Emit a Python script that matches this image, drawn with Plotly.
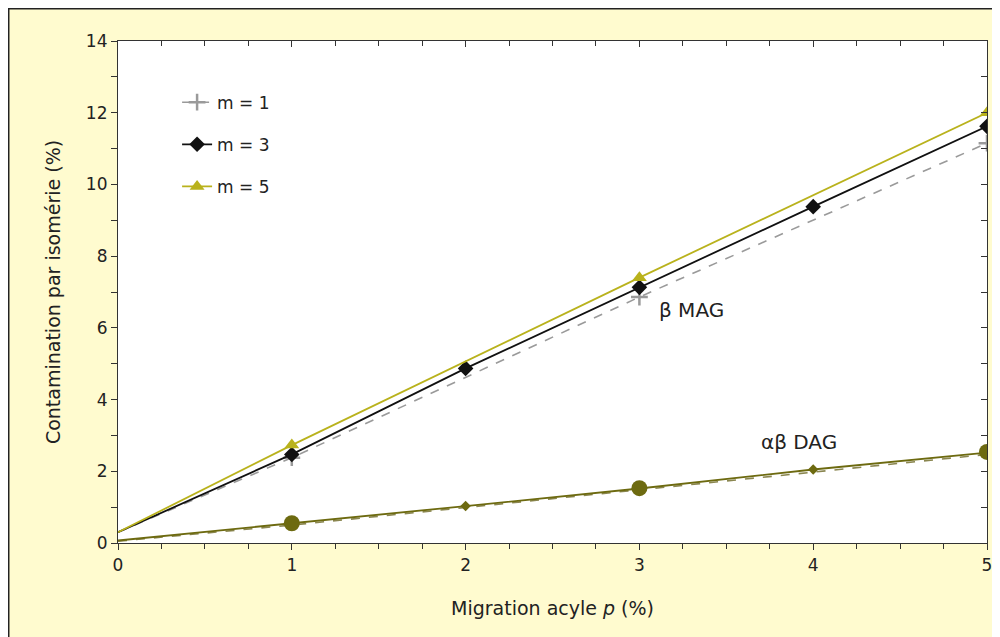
import plotly.graph_objects as go

# ---- data ----
p_all = [0, 1, 2, 3, 4, 5]
p_odd = [0, 1, 3, 5]

mag_m1 = [0.3, 2.38, 6.86, 11.15]
mag_m3 = [0.3, 2.47, 4.87, 7.13, 9.38, 11.62]
mag_m5 = [0.3, 2.73, 7.40, 12.0]

dag_m1 = [0.05, 0.50, 0.99, 1.49, 1.99, 2.47]
dag_m3 = [0.07, 0.54, 1.03, 1.52, 2.05, 2.52]
dag_m5 = [0.07, 0.55, 1.04, 1.53, 2.06, 2.54]

legend_names = ["m = 1", "m = 3", "m = 5"]
label_mag = ("β MAG", 3.3, 6.5)
label_dag = ("αβ DAG", 3.92, 2.82)

# ---- style ----
FONT = "DejaVu Sans"
CREAM = "#fffbcf"
GREY = "#9a9a9a"
BLACK = "#111111"
YELLOW = "#b9b21c"
OLIVE = "#6d6a10"
AX = "#333333"
TXT = "#222222"

styles = [
    dict(line=dict(color=GREY, width=1.6, dash="dash"),
         marker=dict(symbol="cross-thin", size=12, color=GREY, line=dict(color=GREY, width=2.5))),
    dict(line=dict(color=BLACK, width=1.8),
         marker=dict(symbol="diamond", size=12, color=BLACK)),
    dict(line=dict(color=YELLOW, width=1.8),
         marker=dict(symbol="triangle-up", size=13, color=YELLOW)),
]
mag_x = [p_odd, p_all, p_odd]
mag_y = [mag_m1, mag_m3, mag_m5]

fig = go.Figure()

# MAG series: line from p = 0, markers only from p = 1
for xs, ys, st in zip(mag_x, mag_y, styles):
    fig.add_trace(go.Scatter(x=xs, y=ys, mode="lines", line=st["line"], showlegend=False))
    fig.add_trace(go.Scatter(x=xs[1:], y=ys[1:], mode="markers", marker=st["marker"], showlegend=False))

# legend entries (no data of their own)
for name, st in zip(legend_names, styles):
    fig.add_trace(go.Scatter(x=[None], y=[None], mode="lines+markers", name=name,
                             legendgroup=name, line=st["line"], marker=st["marker"]))

# DAG series
fig.add_trace(go.Scatter(x=p_all, y=dag_m1, mode="lines", showlegend=False,
                         line=dict(color="#8a8650", width=1.6, dash="dash")))
fig.add_trace(go.Scatter(x=p_all, y=dag_m3, mode="lines", showlegend=False,
                         line=dict(color=OLIVE, width=1.8)))
fig.add_trace(go.Scatter(x=p_all[1:], y=dag_m3[1:], mode="markers", showlegend=False,
                         marker=dict(symbol="diamond", size=8, color=OLIVE)))
fig.add_trace(go.Scatter(x=p_odd[1:], y=dag_m5[1::2], mode="markers", showlegend=False,
                         marker=dict(symbol="circle", size=16, color=OLIVE)))

# dummy overlay trace so mirrored (inside) tick axes are drawn
fig.add_trace(go.Scatter(x=[], y=[], xaxis="x2", yaxis="y2", showlegend=False, hoverinfo="skip"))

for txt, xx, yy in (label_mag, label_dag):
    fig.add_annotation(x=xx, y=yy, text=txt, showarrow=False,
                       font=dict(family=FONT, size=20, color=TXT))

axis_common = dict(showgrid=False, zeroline=False, showline=True, linecolor=AX, linewidth=1.2,
                   tickcolor=AX, tickwidth=1.2)

fig.update_layout(
    width=1000, height=637,
    margin=dict(l=110, r=21, t=33, b=102),
    paper_bgcolor=CREAM, plot_bgcolor="white",
    font=dict(family=FONT, size=17, color=TXT),
    xaxis=dict(range=[0, 5], dtick=1, ticks="outside", ticklen=6,
               minor=dict(dtick=0.25, ticks="outside", ticklen=5, tickcolor=AX),
               title=dict(text="Migration acyle <i>p</i> (%)", font=dict(size=19), standoff=28),
               tickfont=dict(size=17), **axis_common),
    yaxis=dict(range=[0, 14], dtick=2, ticks="outside", ticklen=6,
               minor=dict(dtick=1, ticks="outside", ticklen=6, tickcolor=AX),
               title=dict(text="Contamination par isomérie (%)", font=dict(size=19), standoff=20),
               tickfont=dict(size=17), **axis_common),
    xaxis2=dict(range=[0, 5], overlaying="x", side="top", anchor="y", dtick=1,
                ticks="inside", ticklen=6, showticklabels=False,
                minor=dict(dtick=0.25, ticks="inside", ticklen=5, tickcolor=AX),
                **axis_common),
    yaxis2=dict(range=[0, 14], overlaying="y", side="right", anchor="x", dtick=2,
                ticks="inside", ticklen=6, showticklabels=False,
                minor=dict(dtick=1, ticks="inside", ticklen=6, tickcolor=AX),
                **axis_common),
    legend=dict(x=0.068, y=0.913, xanchor="left", yanchor="top",
                bgcolor="rgba(0,0,0,0)", traceorder="grouped", tracegroupgap=17,
                font=dict(size=17)),
)

# dark frame along the left and top edges of the figure
fig.add_shape(type="line", xref="paper", yref="paper", x0=-0.1266, x1=-0.1266, y0=-0.3, y1=1.0657,
              line=dict(color="#222222", width=3))
fig.add_shape(type="line", xref="paper", yref="paper", x0=-0.1266, x1=1.1, y0=1.0657, y1=1.0657,
              line=dict(color="#222222", width=3))

fig.write_html("out.html")
